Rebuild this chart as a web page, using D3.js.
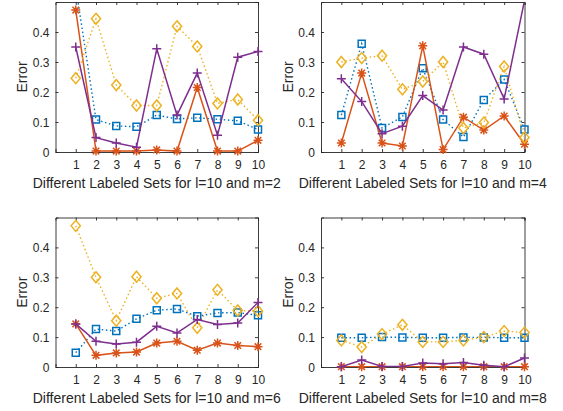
<!DOCTYPE html>
<html>
<head>
<meta charset="utf-8">
<script src="https://cdn.jsdelivr.net/npm/d3@7/dist/d3.min.js"></script>
<style>
  html, body { margin: 0; padding: 0; background: #fff; }
  svg { display: block; }
  text { font-family: "Liberation Sans", Arial, Helvetica, sans-serif; fill: #262626; }
</style>
</head>
<body>
<svg id="chart" width="563" height="411"></svg>
<script>
// Labeled-set indices and axis ticks
const labeledSets = [1, 2, 3, 4, 5, 6, 7, 8, 9, 10];
const xTicks = [1, 2, 3, 4, 5, 6, 7, 8, 9, 10];
const yTicks = [0, 0.1, 0.2, 0.3, 0.4];
const mValues = [2, 4, 6, 8];

// Error per labeled set, one array per method and per m
const squareM2   = [0.55, 0.108, 0.087, 0.084, 0.123, 0.110, 0.114, 0.109, 0.104, 0.075];
const asteriskM2 = [0.473, 0.003, 0.003, 0.003, 0.007, 0.003, 0.215, 0.003, 0.003, 0.039];
const diamondM2  = [0.246, 0.444, 0.223, 0.155, 0.155, 0.419, 0.352, 0.162, 0.175, 0.106];
const plusM2     = [0.350, 0.048, 0.030, 0.016, 0.344, 0.123, 0.263, 0.056, 0.316, 0.335];

const squareM4   = [0.123, 0.361, 0.080, 0.117, 0.279, 0.108, 0.050, 0.173, 0.242, 0.075];
const asteriskM4 = [0.030, 0.263, 0.030, 0.020, 0.354, 0.008, 0.116, 0.073, 0.120, 0.026];
const diamondM4  = [0.300, 0.313, 0.321, 0.209, 0.235, 0.300, 0.080, 0.098, 0.285, 0.048];
const plusM4     = [0.244, 0.168, 0.061, 0.086, 0.188, 0.140, 0.350, 0.326, 0.177, 0.505];

const squareM6   = [0.048, 0.127, 0.120, 0.161, 0.190, 0.194, 0.170, 0.181, 0.182, 0.173];
const asteriskM6 = [0.144, 0.039, 0.047, 0.050, 0.080, 0.086, 0.056, 0.080, 0.072, 0.068];
const diamondM6  = [0.472, 0.300, 0.155, 0.302, 0.230, 0.246, 0.131, 0.258, 0.189, 0.187];
const plusM6     = [0.144, 0.086, 0.077, 0.083, 0.136, 0.114, 0.159, 0.142, 0.147, 0.216];

const squareM8   = [0.098, 0.098, 0.100, 0.099, 0.098, 0.098, 0.099, 0.099, 0.098, 0.098];
const asteriskM8 = [0.001, 0.001, 0.001, 0.001, 0.001, 0.001, 0.001, 0.001, 0.001, 0.001];
const diamondM8  = [0.089, 0.067, 0.110, 0.141, 0.084, 0.084, 0.089, 0.100, 0.120, 0.115];
const plusM8     = [0.001, 0.023, 0.002, 0.002, 0.013, 0.011, 0.015, 0.006, 0.001, 0.030];

const panelData = [
  [squareM2, asteriskM2, diamondM2, plusM2],
  [squareM4, asteriskM4, diamondM4, plusM4],
  [squareM6, asteriskM6, diamondM6, plusM6],
  [squareM8, asteriskM8, diamondM8, plusM8]
];

// Series styles, in drawing order
const styles = [
  { color: "#0072BD", dash: "1.5,2.6", marker: "square" },
  { color: "#D95319", dash: null,      marker: "asterisk" },
  { color: "#EDB120", dash: "1.5,2.6", marker: "diamond" },
  { color: "#7E2F8E", dash: null,      marker: "plus" }
];

const svg = d3.select("#chart");
const axisColor = "#262626";

// panel boxes: left, top, width, height
const panels = [
  { x: 55.5,  y: 2,     w: 202.5, h: 150 },
  { x: 321,   y: 2,     w: 203.5, h: 150 },
  { x: 55.5,  y: 217.5, w: 202.5, h: 149.5 },
  { x: 321,   y: 217.5, w: 203.5, h: 149.5 }
];

function markerPath(type) {
  const p = d3.path();
  if (type === "square") {
    p.rect(-3.5, -3.5, 7, 7);
  } else if (type === "diamond") {
    p.moveTo(0, -5.5); p.lineTo(4.6, 0); p.lineTo(0, 5.5); p.lineTo(-4.6, 0); p.closePath();
  } else if (type === "plus") {
    p.moveTo(-4.5, 0); p.lineTo(4.5, 0); p.moveTo(0, -4.5); p.lineTo(0, 4.5);
  } else if (type === "asterisk") {
    const r = 4.5, d = 3.3;
    p.moveTo(-r, 0); p.lineTo(r, 0); p.moveTo(0, -r); p.lineTo(0, r);
    p.moveTo(-d, -d); p.lineTo(d, d); p.moveTo(-d, d); p.lineTo(d, -d);
  }
  return p.toString();
}

panels.forEach((pb, i) => {
  const g = svg.append("g").attr("transform", `translate(${pb.x},${pb.y})`);
  const x = d3.scaleLinear().domain([0, 10]).range([0, pb.w]);
  const y = d3.scaleLinear().domain([0, 0.5]).range([pb.h, 0]);

  const clipId = "clip" + i;
  svg.append("defs").append("clipPath").attr("id", clipId)
    .append("rect").attr("x", 0).attr("y", 0).attr("width", pb.w).attr("height", pb.h);

  // axes: ticks point inward, box drawn on all four sides
  const tickLen = 3;
  const bottom = g.append("g").attr("transform", `translate(0,${pb.h})`)
    .call(d3.axisBottom(x).tickValues(xTicks).tickSize(-tickLen).tickPadding(6).tickFormat(d3.format("d")));
  const left = g.append("g")
    .call(d3.axisLeft(y).tickValues(yTicks).tickSize(-tickLen).tickPadding(6)
      .tickFormat(d => d === 0 ? "0" : d3.format(".1f")(d)));
  const top = g.append("g")
    .call(d3.axisTop(x).tickValues(xTicks).tickSize(-tickLen).tickFormat(""));
  const right = g.append("g").attr("transform", `translate(${pb.w},0)`)
    .call(d3.axisRight(y).tickValues(yTicks).tickSize(-tickLen).tickFormat(""));

  [bottom, left, top, right].forEach(a => {
    a.select(".domain").attr("stroke", axisColor).attr("stroke-width", 0.9);
    a.selectAll(".tick line").attr("stroke", axisColor).attr("stroke-width", 0.9);
    a.selectAll(".tick text").attr("fill", axisColor)
      .style("font-family", '"Liberation Sans", Arial, sans-serif').style("font-size", "12px");
  });
  bottom.selectAll(".tick text").attr("dy", "0.95em");
  left.selectAll(".tick text").attr("dy", "0.36em");

  // series: lines clipped to the axes box, markers drawn whole for in-range points
  const line = d3.line().x((d, k) => x(labeledSets[k])).y(d => y(d));
  const [y0, y1] = y.domain();
  panelData[i].forEach((vals, s) => {
    const st = styles[s];
    const sg = g.append("g");
    sg.append("path").datum(vals)
      .attr("clip-path", `url(#${clipId})`)
      .attr("d", line)
      .attr("fill", "none")
      .attr("stroke", st.color)
      .attr("stroke-width", st.dash ? 1.4 : 1.5)
      .attr("stroke-dasharray", st.dash);
    const pts = vals.map((v, k) => ({ v, k })).filter(p => p.v >= y0 && p.v <= y1);
    sg.selectAll(null).data(pts).enter().append("path")
      .attr("transform", p => `translate(${x(labeledSets[p.k])},${y(p.v)})`)
      .attr("d", markerPath(st.marker))
      .attr("fill", "none")
      .attr("stroke", st.color)
      .attr("stroke-width", 1.5);
  });

  // labels
  g.append("text")
    .attr("x", pb.w / 2).attr("y", pb.h + 36)
    .attr("text-anchor", "middle")
    .style("font-size", "14px")
    .text(`Different Labeled Sets for l=10 and m=${mValues[i]}`);
  g.append("text")
    .attr("transform", `translate(-28.5,${pb.h / 2}) rotate(-90)`)
    .attr("text-anchor", "middle")
    .style("font-size", "14px")
    .text("Error");
});
</script>
</body>
</html>
